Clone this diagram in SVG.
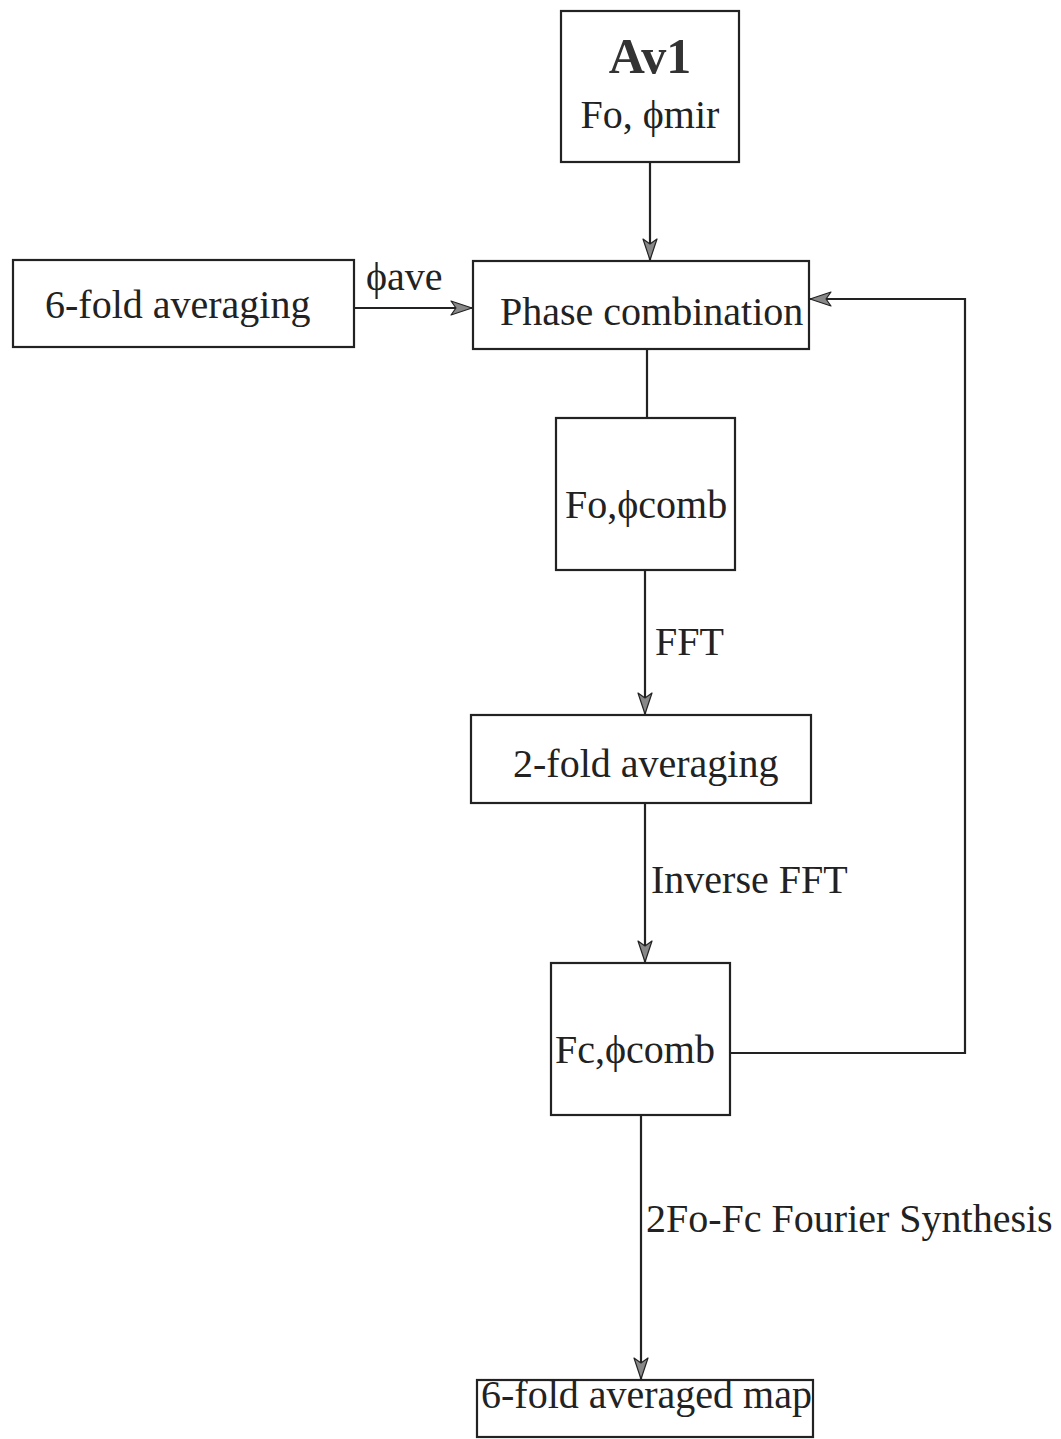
<svg xmlns="http://www.w3.org/2000/svg" width="1061" height="1439" viewBox="0 0 1061 1439">
<style>
.box{fill:#fff;stroke:#222;stroke-width:2.2}
.t{font-family:"Liberation Serif","DejaVu Serif",serif;font-size:40px;fill:#222}
.b{font-weight:bold;font-size:50px;fill:#333}
.c{fill:none;stroke:#222;stroke-width:2.2}
</style>
<defs>
<marker id="ah" markerUnits="userSpaceOnUse" markerWidth="24" markerHeight="16" refX="22" refY="8" orient="auto">
<path d="M1,1 L22,8 L1,15 L6,8 Z" fill="#888" stroke="#222" stroke-width="1.2" stroke-linejoin="round"/>
</marker>
</defs>
<rect width="1061" height="1439" fill="#fff"/>
<g id="connectors">
<line class="c" x1="650" y1="162" x2="650" y2="260" marker-end="url(#ah)"/>
<line class="c" x1="354" y1="308" x2="472" y2="308" marker-end="url(#ah)"/>
<line class="c" x1="647" y1="349" x2="647" y2="418"/>
<line class="c" x1="645" y1="570" x2="645" y2="714" marker-end="url(#ah)"/>
<line class="c" x1="645" y1="803" x2="645" y2="962" marker-end="url(#ah)"/>
<polyline class="c" points="730,1053 965,1053 965,299 810,299" marker-end="url(#ah)"/>
<line class="c" x1="641" y1="1115" x2="641" y2="1379" marker-end="url(#ah)"/>
<text class="t" x="366" y="290">ϕave</text>
<text class="t" x="655" y="655">FFT</text>
<text class="t" x="651" y="893">Inverse FFT</text>
<text class="t" x="646" y="1232">2Fo-Fc Fourier Synthesis</text>
</g>
<g id="av1">
<rect class="box" x="561" y="11" width="178" height="151"/>
<text class="t b" x="650" y="73" text-anchor="middle">Av1</text>
<text class="t" x="650" y="128" text-anchor="middle" font-size="39">Fo, ϕmir</text>
</g>
<g id="sixfold">
<rect class="box" x="13" y="260" width="341" height="87"/>
<text class="t" x="45" y="318">6-fold averaging</text>
</g>
<g id="phase">
<rect class="box" x="473" y="261" width="336" height="88"/>
<text class="t" x="500" y="325">Phase combination</text>
</g>
<g id="focomb">
<rect class="box" x="556" y="418" width="179" height="152"/>
<text class="t" x="565" y="518">Fo,ϕcomb</text>
</g>
<g id="twofold">
<rect class="box" x="471" y="715" width="340" height="88"/>
<text class="t" x="513" y="777">2-fold averaging</text>
</g>
<g id="fccomb">
<rect class="box" x="551" y="963" width="179" height="152"/>
<text class="t" x="555" y="1063">Fc,ϕcomb</text>
</g>
<g id="map">
<rect class="box" x="477" y="1380" width="336" height="57"/>
<text class="t" x="481" y="1408">6-fold averaged map</text>
</g>
</svg>
